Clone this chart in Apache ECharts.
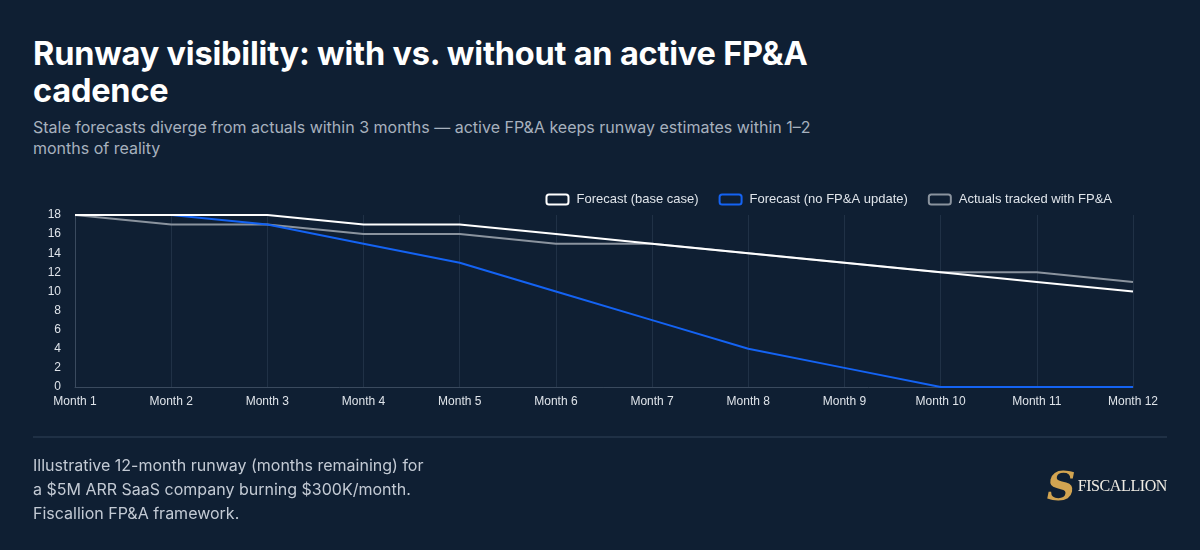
<!DOCTYPE html>
<html>
<head>
<meta charset="utf-8">
<script src="https://cdn.jsdelivr.net/npm/echarts@6/dist/echarts.min.js"></script>
<style>
  html, body { margin: 0; padding: 0; background: #0f1f33; }
  #page { position: relative; width: 1200px; height: 550px; background: #0f1f33; overflow: hidden; font-family: Inter, "Noto Sans", sans-serif; }
  #chart { position: absolute; left: 0; top: 0; width: 1200px; height: 550px; }
  .title { position: absolute; left: 33px; top: 35px; width: 820px; color: #ffffff; font-size: 32.5px; font-weight: 700; line-height: 37px; letter-spacing: -0.2px; }
  .subtitle { position: absolute; left: 33px; top: 117px; width: 800px; color: #a7b1be; font-size: 16px; line-height: 21px; }
  .rule { position: absolute; left: 33px; top: 436px; width: 1134px; height: 2px; background: #1f3045; }
  .note { position: absolute; left: 33px; top: 453px; width: 460px; color: #c3cad4; font-size: 16px; line-height: 24px; }
  .logo { position: absolute; right: 33px; top: 466px; height: 40px; display: flex; align-items: center; }
  .logo .mark { font-family: "DejaVu Serif", serif; font-size: 40px; font-weight: 700; color: #d2a451; line-height: 40px; font-style: italic; }
  .logo .word { font-family: "Liberation Serif", "DejaVu Serif", serif; font-size: 16px; color: #f0ece4; margin-left: 2px; letter-spacing: -0.4px; }
</style>
</head>
<body>
<div id="page">
  <div class="title">Runway visibility: with vs. without an active FP&amp;A cadence</div>
  <div class="subtitle">Stale forecasts diverge from actuals within 3 months — active FP&amp;A keeps runway estimates within 1–2 months of reality</div>
  <div id="chart"></div>
  <div class="rule"></div>
  <div class="note">Illustrative 12-month runway (months remaining) for<br>a $5M ARR SaaS company burning $300K/month.<br>Fiscallion FP&amp;A framework.</div>
  <div class="logo"><span class="mark">S</span><span class="word">FISCALLION</span></div>
</div>
<script>
  // months remaining
  var months = ['Month 1', 'Month 2', 'Month 3', 'Month 4', 'Month 5', 'Month 6',
                'Month 7', 'Month 8', 'Month 9', 'Month 10', 'Month 11', 'Month 12'];
  var baseCase = [18, 18, 18, 17, 17, 16, 15, 14, 13, 12, 11, 10];
  var noUpdate = [18, 18, 17, 15, 13, 10, 7, 4, 2, 0, 0, 0];
  var actuals = [18, 17, 17, 16, 16, 15, 15, 14, 13, 12, 12, 11];

  var bg = '#0f1f33';
  var chart = echarts.init(document.getElementById('chart'));

  function lineSeries(name, data, color, z) {
    return {
      name: name,
      type: 'line',
      data: data,
      symbol: 'none',
      z: z,
      lineStyle: { color: color, width: 2 },
      itemStyle: { color: bg, borderColor: color, borderWidth: 2 }
    };
  }

  chart.setOption({
    backgroundColor: 'transparent',
    animation: false,
    textStyle: { fontFamily: 'Liberation Sans, Arial, sans-serif' },
    legend: {
      right: 83,
      top: 188,
      icon: 'roundRect',
      itemWidth: 22,
      itemHeight: 10,
      itemGap: 20,
      textStyle: { color: '#dfe4ea', fontSize: 13, padding: [0, 0, 0, 3] },
      data: ['Forecast (base case)', 'Forecast (no FP&A update)', 'Actuals tracked with FP&A']
    },
    grid: { left: 75, right: 67, top: 215, bottom: 163 },
    xAxis: {
      type: 'category',
      data: months,
      boundaryGap: false,
      axisLine: { lineStyle: { color: '#3a4a5e' } },
      axisTick: { show: false },
      axisLabel: { color: '#dfe4ea', fontSize: 12, margin: 9 },
      splitLine: { show: true, lineStyle: { color: '#203146', width: 1 } }
    },
    yAxis: {
      type: 'value',
      min: 0,
      max: 18,
      interval: 2,
      axisLine: { show: true, lineStyle: { color: '#3a4a5e' } },
      axisTick: { show: false },
      axisLabel: { color: '#dfe4ea', fontSize: 12, margin: 14 },
      splitLine: { show: false }
    },
    series: [
      lineSeries('Actuals tracked with FP&A', actuals, '#8a939e', 2),
      lineSeries('Forecast (no FP&A update)', noUpdate, '#1463f3', 3),
      lineSeries('Forecast (base case)', baseCase, '#ffffff', 4)
    ]
  });
</script>
</body>
</html>
